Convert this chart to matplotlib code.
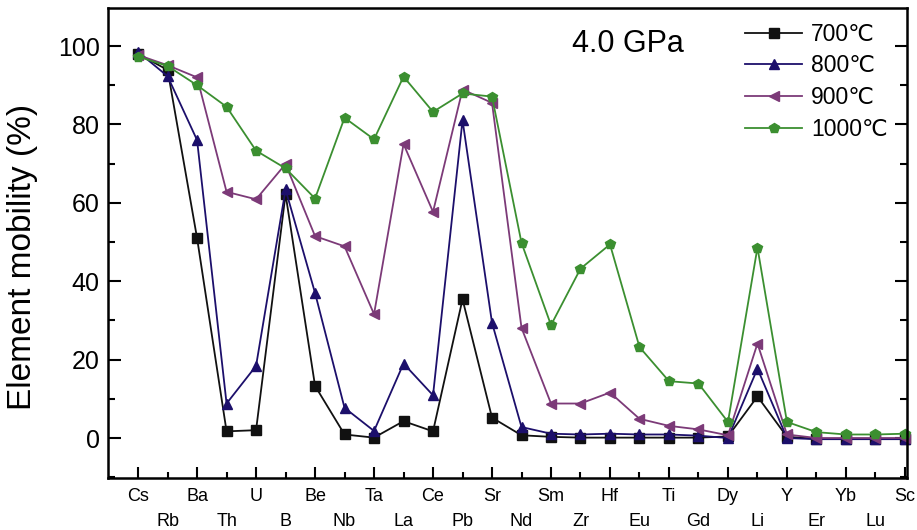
import matplotlib
matplotlib.use("Agg")
import numpy as np
import matplotlib.pyplot as plt

# Elements along the x axis
elements = ["Cs", "Rb", "Ba", "Th", "U", "B", "Be", "Nb", "Ta", "La", "Ce",
            "Pb", "Sr", "Nd", "Sm", "Zr", "Hf", "Eu", "Ti", "Gd", "Dy", "Li",
            "Y", "Er", "Yb", "Lu", "Sc"]

# Element mobility (%) at 4.0 GPa
mob_700 = [98.0, 93.9, 51.0, 1.7, 2.0, 62.2, 13.3, 0.9, 0.1, 4.3, 1.7,
           35.4, 5.2, 0.7, 0.3, 0.1, 0.1, 0.1, 0.1, 0.1, 0.4, 10.6,
           0.3, -0.2, -0.2, -0.2, -0.2]
mob_800 = [98.5, 92.3, 76.0, 8.8, 18.4, 63.4, 37.0, 7.7, 1.8, 19.0, 10.9,
           81.1, 29.4, 2.8, 1.1, 0.9, 1.1, 0.9, 0.9, 0.6, 0.0, 17.7,
           0.0, -0.3, -0.3, -0.3, -0.3]
mob_900 = [97.7, 95.1, 92.0, 62.8, 60.9, 69.9, 51.5, 48.9, 31.6, 75.0, 57.7,
           88.9, 85.5, 28.1, 8.8, 8.8, 11.6, 4.9, 3.1, 2.2, 0.7, 24.1,
           0.9, 0.0, 0.0, 0.0, 0.0]
mob_1000 = [97.3, 94.9, 90.0, 84.5, 73.3, 68.8, 61.1, 81.7, 76.2, 92.2, 83.2,
            87.9, 87.1, 49.8, 28.8, 43.2, 49.4, 23.2, 14.5, 13.9, 4.1, 48.6,
            4.1, 1.5, 0.9, 0.9, 1.1]

series = [
    ("700℃", mob_700, "#111111", "s"),
    ("800℃", mob_800, "#1c0f6b", "^"),
    ("900℃", mob_900, "#7c3a78", "<"),
    ("1000℃", mob_1000, "#3b8f30", "p"),
]

plt.rcParams["font.family"] = ["Liberation Sans", "DejaVu Sans"]

fig = plt.figure(figsize=(9.17, 5.30), dpi=100)
ax = fig.add_axes([108 / 917, 1 - 478 / 530, 799 / 917, 470 / 530])

x = np.arange(len(elements))
for label, vals, col, mk in series:
    ax.plot(x, vals, color=col, marker=mk, markersize=7, linewidth=1.3,
            label=label, clip_on=False)

ax.set_xlim(-1.02, 26.07)
ax.set_ylim(-10.2, 109.7)

# two-row element labels: even on major ticks, odd on minor ticks
ax.set_xticks(x[::2])
ax.set_xticklabels(elements[::2])
ax.set_xticks(x[1::2], minor=True)
ax.set_xticklabels(elements[1::2], minor=True)
ax.set_yticks(np.arange(0, 101, 20))
ax.set_yticks(np.arange(-10, 110, 10), minor=True)

ax.tick_params(axis="x", which="major", direction="in", length=8, width=1.5,
               pad=7, labelsize=13)
ax.tick_params(axis="x", which="minor", direction="in", length=4, width=1.5,
               pad=25, labelsize=13)
ax.tick_params(axis="y", which="major", direction="in", length=9, width=1.5,
               right=True, labelsize=18, pad=6)
ax.tick_params(axis="y", which="minor", direction="in", length=5, width=1.5,
               right=True)

for sp in ax.spines.values():
    sp.set_linewidth(1.8)

ax.set_ylabel("Element mobility (%)", fontsize=24)
ax.yaxis.set_label_coords(-0.088, 0.47)

ax.text(14.7, 100.5, "4.0 GPa", fontsize=22, va="center", ha="left")

ax.legend(loc="upper left", bbox_to_anchor=(0.777, 1.003), frameon=False,
          fontsize=16.5, handlelength=2.5, handletextpad=0.4,
          labelspacing=0.38, borderaxespad=0.3)

fig.savefig("out.png", dpi=100, facecolor="white")
